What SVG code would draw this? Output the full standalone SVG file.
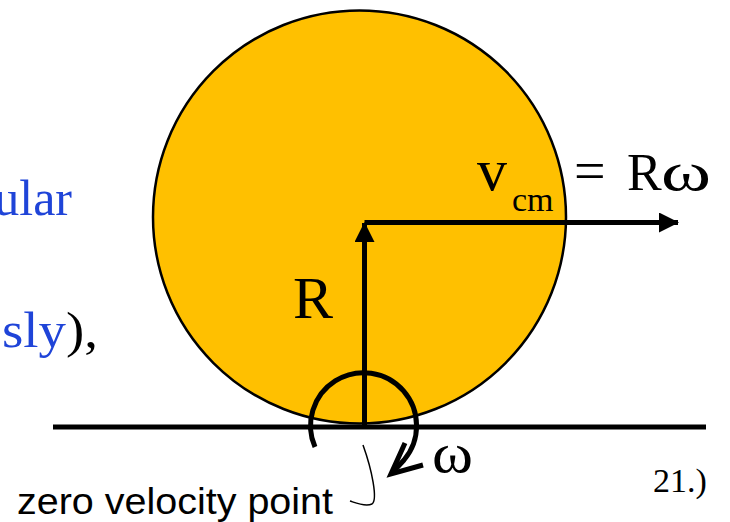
<svg xmlns="http://www.w3.org/2000/svg" width="730" height="522" viewBox="0 0 730 522">
<defs>
<style>
.serif{font-family:"Liberation Serif","Times New Roman",serif;fill:#000}
.blue{fill:#1f44d8}
.sans{font-family:"Liberation Sans",Arial,sans-serif;fill:#000}
.thick{stroke:#000;stroke-width:5;fill:none}
</style>
<marker id="ah" viewBox="0 0 20 20" refX="19" refY="10" markerWidth="20" markerHeight="20" markerUnits="userSpaceOnUse" orient="auto">
<path d="M0,0 L20,10 L0,20 Z" fill="#000"/>
</marker>
</defs>
<rect width="730" height="522" fill="#fff"/>
<text class="serif blue" x="72" y="215" font-size="50" text-anchor="end">ular</text>
<text class="serif" x="2" y="347" font-size="50" textLength="96" lengthAdjust="spacingAndGlyphs"><tspan class="blue">sly</tspan>),</text>
<g id="wheel">
<circle cx="359.5" cy="217" r="206.5" fill="#FFC000" stroke="#000" stroke-width="2.5"/>
</g>
<g id="ground">
<line x1="53" y1="427" x2="706" y2="427" stroke="#000" stroke-width="5"/>
</g>
<g id="connectors">
<line class="thick" x1="364.5" y1="427" x2="364.5" y2="223" marker-end="url(#ah)"/>
<line class="thick" x1="364.5" y1="222.5" x2="678" y2="222.5" marker-end="url(#ah)"/>
<path class="thick" d="M315,447 A53,53 0 1 1 404,460 L392,473"/>
<path class="thick" d="M405,443 L391,474 L423,465"/>
<path d="M363,445 C372,470 378,500 372,504 C365,507 356,503 350,501" fill="none" stroke="#000" stroke-width="1.5"/>
</g>
<g id="labels">
<text class="serif" x="293" y="318" font-size="60">R</text>
<text class="serif" x="477" y="190" font-size="60">v</text>
<text class="serif" x="512" y="211" font-size="34">cm</text>
<text class="serif" x="574" y="190" font-size="56">=</text>
<text class="serif" x="627" y="190" font-size="52">R</text>
<text class="serif" x="661" y="190" font-size="54" textLength="50" lengthAdjust="spacingAndGlyphs">ω</text>
<text class="serif" x="432" y="472" font-size="58" textLength="41" lengthAdjust="spacingAndGlyphs">ω</text>
<text class="serif" x="653" y="492" font-size="34">21.)</text>
<text class="sans" x="17" y="514" font-size="37" textLength="316" lengthAdjust="spacingAndGlyphs">zero velocity point</text>
</g>
</svg>
